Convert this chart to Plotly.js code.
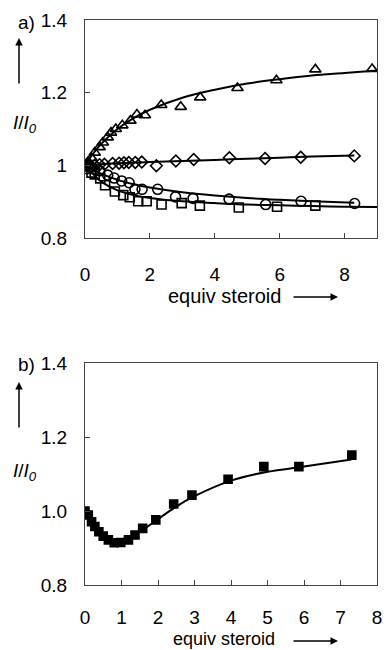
<!DOCTYPE html>
<html><head><meta charset="utf-8">
<script src="https://cdn.plot.ly/plotly-3.0.1.min.js"></script>
<style>html,body{margin:0;padding:0;background:#fff}#chart{width:384px;height:650px}</style>
</head><body><div id="chart"></div>
<script>
// ---- Panel a data ----
const triX = [0, 0.1, 0.2, 0.3, 0.45, 0.55, 0.7, 0.8, 0.95, 1.15, 1.4, 1.6, 1.85, 2.35, 2.95, 3.55, 4.7, 5.9, 7.1, 8.85];
const triY = [1.0, 1.01, 1.02, 1.035, 1.05, 1.063, 1.077, 1.09, 1.1, 1.11, 1.123, 1.14, 1.138, 1.166, 1.161, 1.187, 1.213, 1.234, 1.264, 1.265];
const triFitX = [0, 0.25, 0.5, 1, 1.5, 2, 3, 4, 5, 6, 7, 8, 9];
const triFitY = [1.0, 1.032, 1.059, 1.1, 1.13, 1.153, 1.186, 1.208, 1.225, 1.237, 1.247, 1.254, 1.261];

const diaX = [0, 0.1, 0.2, 0.3, 0.45, 0.6, 0.85, 1.05, 1.2, 1.35, 1.55, 1.75, 2.2, 2.8, 3.35, 4.45, 5.55, 6.65, 8.3];
const diaY = [1.0, 1.0, 0.997, 1.0, 1.002, 1.003, 1.005, 1.006, 1.007, 1.008, 1.008, 1.009, 0.999, 1.012, 1.016, 1.021, 1.019, 1.022, 1.026];
const diaFitX = [0, 0.5, 1, 2, 3, 4, 5, 6, 7, 8.3];
const diaFitY = [1.0, 1.003, 1.006, 1.009, 1.012, 1.015, 1.018, 1.021, 1.024, 1.027];

const cirX = [0, 0.15, 0.3, 0.46, 0.7, 0.9, 1.13, 1.36, 1.54, 1.76, 2.24, 2.79, 3.33, 4.44, 5.57, 6.66, 8.31];
const cirY = [1.0, 0.995, 0.99, 0.985, 0.973, 0.965, 0.957, 0.952, 0.934, 0.934, 0.934, 0.913, 0.909, 0.907, 0.892, 0.901, 0.895];
const cirFitX = [0, 0.25, 0.5, 1, 1.5, 2, 3, 4, 5, 6, 7, 8.3];
const cirFitY = [1.0, 0.987, 0.977, 0.96, 0.948, 0.939, 0.926, 0.917, 0.91, 0.905, 0.901, 0.897];

const sqX = [0, 0.1, 0.2, 0.3, 0.47, 0.62, 0.92, 1.18, 1.38, 1.64, 1.9, 2.36, 2.98, 3.54, 4.74, 5.92, 7.1];
const sqY = [1.0, 0.99, 0.98, 0.975, 0.964, 0.945, 0.928, 0.918, 0.912, 0.901, 0.901, 0.892, 0.896, 0.889, 0.884, 0.886, 0.889];
const sqFitX = [0, 0.25, 0.5, 1, 1.5, 2, 3, 4, 5, 6, 7, 8, 9];
const sqFitY = [1.0, 0.976, 0.955, 0.931, 0.918, 0.91, 0.901, 0.896, 0.892, 0.89, 0.888, 0.886, 0.885];

// ---- Panel b data ----
const bX = [0, 0.09, 0.18, 0.27, 0.38, 0.5, 0.64, 0.8, 0.98, 1.19, 1.37, 1.58, 1.94, 2.43, 2.93, 3.92, 4.9, 5.86, 7.31];
const bY = [1.0, 0.989, 0.971, 0.958, 0.944, 0.932, 0.922, 0.914, 0.915, 0.922, 0.935, 0.953, 0.976, 1.019, 1.043, 1.086, 1.12, 1.12, 1.151];
const bFitX = [0, 0.25, 0.5, 0.75, 1, 1.5, 2, 2.5, 3, 4, 5, 6, 7.3];
const bFitY = [1.0, 0.963, 0.934, 0.918, 0.918, 0.944, 0.978, 1.012, 1.04, 1.082, 1.106, 1.12, 1.139];

// ---- tick labels ----
const aXTicks = [0, 2, 4, 6, 8];
const aYTicks = [0.8, 1, 1.2, 1.4];
const aYTickText = ['0.8', '1', '1.2', '1.4'];
const bXTicks = [0, 1, 2, 3, 4, 5, 6, 7, 8];
const bYTicks = [0.8, 1.0, 1.2, 1.4];
const bYTickText = ['0.8', '1.0', '1.2', '1.4'];

const W = 384, H = 650;
const px = v => v / W, py = v => 1 - v / H;
const FONT = 'Arial, "Liberation Sans", sans-serif';

function pts(x, y, sym, size, xa, ya) {
  return {x: x, y: y, mode: 'markers', type: 'scatter', xaxis: xa, yaxis: ya,
    marker: {symbol: sym, size: size, color: '#000', line: {color: '#000', width: 1.6}},
    showlegend: false, hoverinfo: 'skip'};
}
function fit(x, y, xa, ya) {
  return {x: x, y: y, mode: 'lines', type: 'scatter', xaxis: xa, yaxis: ya,
    line: {color: '#000', width: 2, shape: 'spline', smoothing: 1}, showlegend: false, hoverinfo: 'skip'};
}

const data = [
  fit(triFitX, triFitY, 'x', 'y'), fit(diaFitX, diaFitY, 'x', 'y'),
  fit(cirFitX, cirFitY, 'x', 'y'), fit(sqFitX, sqFitY, 'x', 'y'),
  pts(triX, triY, 'triangle-up-open', 10, 'x', 'y'),
  pts(diaX, diaY, 'diamond-open', 9, 'x', 'y'),
  pts(cirX, cirY, 'circle-open', 10, 'x', 'y'),
  pts(sqX, sqY, 'square-open', 9, 'x', 'y'),
  fit(bFitX, bFitY, 'x2', 'y2'),
  pts(bX, bY, 'square', 8, 'x2', 'y2')
];

const axBase = {showgrid: false, zeroline: false, showline: true, linecolor: '#444', linewidth: 1,
  mirror: true, ticks: 'inside', ticklen: 5, tickcolor: '#444', tickwidth: 1,
  tickfont: {family: FONT, size: 19, color: '#000'}, fixedrange: true};

const layout = {
  width: W, height: H, margin: {l: 0, r: 0, t: 0, b: 0},
  paper_bgcolor: '#fff', plot_bgcolor: '#fff', showlegend: false,
  xaxis: Object.assign({}, axBase, {domain: [px(85), px(377)], range: [0, 9], anchor: 'y',
    tickvals: aXTicks, ticktext: aXTicks.map(String), ticklabelstandoff: 19}),
  yaxis: Object.assign({}, axBase, {domain: [py(238), py(20)], range: [0.8, 1.4], anchor: 'x',
    tickvals: aYTicks, ticktext: aYTickText, ticklabelstandoff: 13}),
  xaxis2: Object.assign({}, axBase, {domain: [px(85), px(377)], range: [0, 8], anchor: 'y2',
    tickvals: bXTicks, ticktext: bXTicks.map(String), ticklabelstandoff: 15}),
  yaxis2: Object.assign({}, axBase, {domain: [py(585), py(363)], range: [0.8, 1.4], anchor: 'x2',
    tickvals: bYTicks, ticktext: bYTickText, ticklabelstandoff: 13}),
  annotations: []
};

function txt(t, x, y, xanchor, size) {
  layout.annotations.push({text: t, xref: 'paper', yref: 'paper', x: px(x), y: py(y),
    xanchor: xanchor || 'center', yanchor: 'middle', showarrow: false,
    font: {family: FONT, size: size || 19, color: '#000'}});
}
function arrow(hx, hy, ax, ay) {
  layout.annotations.push({text: '', xref: 'paper', yref: 'paper', x: px(hx), y: py(hy),
    ax: ax, ay: ay, showarrow: true, arrowhead: 2, arrowsize: 1, arrowwidth: 1.5, arrowcolor: '#000',
    standoff: 0, startstandoff: 0});
}

// panel a decorations
txt('a)', 16, 22, 'left', 19);
arrow(19, 38, 0, 47);
txt('<i>I</i>/<i>I<sub>0</sub></i>', 11, 124, 'left', 19);
txt('equiv steroid', 224, 296, 'center', 20);
arrow(338, 297, -46, 0);
// panel b decorations
txt('b)', 16, 364, 'left', 19);
arrow(19, 382, 0, 47);
txt('<i>I</i>/<i>I<sub>0</sub></i>', 11, 472, 'left', 19);
txt('equiv steroid', 224, 639, 'center', 18);
arrow(338, 641, -46, 0);

Plotly.newPlot('chart', data, layout, {staticPlot: true, displayModeBar: false});
</script></body></html>
